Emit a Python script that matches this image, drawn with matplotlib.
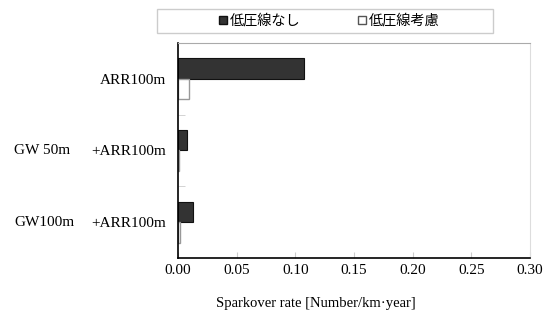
import matplotlib
matplotlib.use("Agg")
import matplotlib.pyplot as plt
import matplotlib.patches as mpatches
import matplotlib.transforms as mtransforms
import numpy as np

# Data
categories = ['ARR100m', '+ARR100m', '+ARR100m']
prefixes = ['', 'GW 50m', 'GW100m']
without_lv = [0.107, 0.008, 0.0125]   # 低圧線なし
with_lv = [0.009, 0.001, 0.002]       # 低圧線考慮
series_names = ['低圧線なし', '低圧線考慮']
xticks = [0.00, 0.05, 0.10, 0.15, 0.20, 0.25, 0.30]

plt.rcParams['font.family'] = ['Liberation Serif', 'DejaVu Serif']

fig = plt.figure(figsize=(5.49, 3.12), dpi=100)
ax = fig.add_axes([178 / 549, 1 - 258 / 312, 352 / 549, 215 / 312])

y = np.arange(len(categories))
h = 0.286
ax.barh(y - h / 2, without_lv, height=h, color='#333333', edgecolor='#111111', linewidth=0.8)
ax.barh(y + h / 2, with_lv, height=h, color='white', edgecolor='#999999', linewidth=1.0)

ax.set_xlim(0, 0.30)
ax.set_ylim(len(categories) - 0.5, -0.5)
ax.set_xticks(xticks)
ax.set_xticklabels([f'{v:.2f}' for v in xticks], fontsize=11)
ax.set_yticks(y)
ax.set_yticklabels(categories, fontsize=11)
ax.set_yticks([0.5, 1.5], minor=True)

ax.tick_params(axis='x', which='major', direction='in', length=4, color='#cccccc', pad=4)
ax.tick_params(axis='y', which='major', length=0, pad=8.5)
ax.tick_params(axis='y', which='minor', direction='in', length=5, color='#cccccc')

ax.spines['left'].set_color('black')
ax.spines['bottom'].set_color('black')
ax.spines['left'].set_linewidth(1.2)
ax.spines['bottom'].set_linewidth(1.2)
ax.spines['top'].set_color('#aaaaaa')
ax.spines['right'].set_color('#dddddd')

ax.set_xlabel('Sparkover rate [Number/km\u00b7year]', fontsize=10.5)
ax.xaxis.set_label_coords((316 - 178) / 352, -0.18)

# left-hand prefixes of the two-part labels
trans = mtransforms.blended_transform_factory(fig.transFigure, ax.transData)
for yi, p in zip(y, prefixes):
    if p:
        ax.text(14 / 549, yi, p, transform=trans, ha='left', va='center', fontsize=11)

# legend box at the top
fig.patches.append(mpatches.Rectangle((157 / 549, 1 - 33 / 312), 336 / 549, 24 / 312,
                                      transform=fig.transFigure, facecolor='white',
                                      edgecolor='#cccccc', linewidth=1.0))
handles = [mpatches.Patch(facecolor='#333333', edgecolor='#111111', label=series_names[0]),
           mpatches.Patch(facecolor='white', edgecolor='#555555', label=series_names[1])]
fig.legend(handles=handles, loc='center', bbox_to_anchor=(329 / 549, 1 - 21 / 312),
           ncol=2, frameon=False, handlelength=0.55, handleheight=0.55, handletextpad=0.2,
           columnspacing=4.1, prop={'family': 'Noto Sans CJK JP', 'size': 10.2})

fig.savefig('out.png', dpi=100)
